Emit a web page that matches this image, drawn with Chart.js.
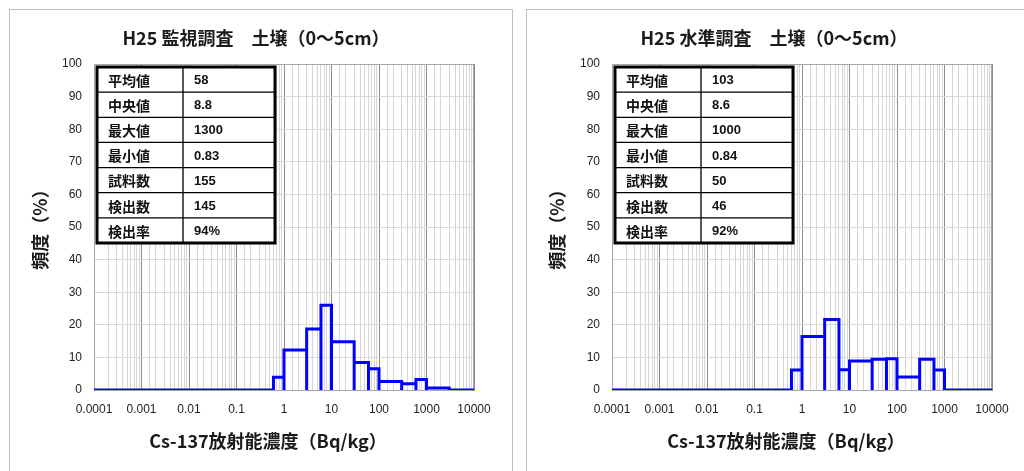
<!DOCTYPE html>
<html><head><meta charset="utf-8">
<script src="https://cdn.jsdelivr.net/npm/chart.js@4.4.1/dist/chart.umd.min.js"></script>
<style>
html,body{margin:0;padding:0;background:#fff;width:1024px;height:471px;overflow:hidden}
.panel{position:absolute;top:9px;height:480px;border:1px solid #bfbfbf;box-sizing:border-box;background:#fff}
#p1{left:9px;width:504px}
#p2{left:526px;width:520px}
canvas{position:absolute}
#c1{left:10px;top:10px}
#c2{left:527px;top:10px}
</style></head><body>
<div class="panel" id="p1"></div><div class="panel" id="p2"></div>
<canvas id="c1" width="500" height="461"></canvas>
<canvas id="c2" width="497" height="461"></canvas>
<script>
// ---- data ----
const binEdges = [0.6, 1, 3, 6, 10, 30, 60, 100, 300, 600, 1000, 3000];
const freqMonitoring = [3.9, 12.3, 18.7, 26.0, 14.8, 8.4, 6.5, 2.6, 1.9, 3.2, 0.6];
const freqLevel = [6.1, 16.4, 21.6, 6.2, 8.9, 9.4, 9.6, 4.0, 9.4, 6.1, 0];
const xMin = 0.0001, xMax = 10000;
const xTickLabels = ['0.0001', '0.001', '0.01', '0.1', '1', '10', '100', '1000', '10000'];
const yMin = 0, yMax = 100, yStep = 10;
const statLabels = ['平均値', '中央値', '最大値', '最小値', '試料数', '検出数', '検出率'];
const statsMonitoring = ['58', '8.8', '1300', '0.83', '155', '145', '94%'];
const statsLevel = ['103', '8.6', '1000', '0.84', '50', '46', '92%'];
const titleMonitoring = 'H25 監視調査　土壌（0～5cm）';
const titleLevel = 'H25 水準調査　土壌（0～5cm）';
const xTitle = 'Cs-137放射能濃度（Bq/kg）';
const yTitle = '頻度（%）';

const CJK = '"Noto Sans CJK JP", "Noto Sans CJK SC", sans-serif';
const LAT = '"Liberation Sans", Arial, sans-serif';

function isDecade(v) {
  const l = Math.log10(v);
  return Math.abs(l - Math.round(l)) < 1e-6;
}

const decor = {
  id: 'decor',
  beforeDatasetsDraw(chart) {
    const ctx = chart.ctx, a = chart.chartArea;
    ctx.save();
    ctx.strokeStyle = '#a6a6a6';
    ctx.lineWidth = 1;
    ctx.strokeRect(a.left + 0.5, a.top + 0.5, a.right - a.left - 1, a.bottom - a.top);
    ctx.restore();
  },
  afterDatasetsDraw(chart, args, opts) {
    const ctx = chart.ctx, a = chart.chartArea;
    ctx.save();
    // stats table
    const tx = a.left + 3, ty = a.top + 3, tw = 178, th = 176;
    const rows = statLabels.length, rh = th / rows, c1 = 86;
    ctx.fillStyle = '#fff';
    ctx.fillRect(tx, ty, tw, th);
    ctx.strokeStyle = '#000';
    ctx.lineWidth = 1.3;
    ctx.beginPath();
    for (let r = 1; r < rows; r++) {
      ctx.moveTo(tx, ty + r * rh); ctx.lineTo(tx + tw, ty + r * rh);
    }
    ctx.moveTo(tx + c1, ty); ctx.lineTo(tx + c1, ty + th);
    ctx.stroke();
    ctx.lineWidth = 3;
    ctx.strokeRect(tx, ty, tw, th);
    ctx.fillStyle = '#111';
    ctx.textBaseline = 'middle';
    ctx.textAlign = 'left';
    for (let r = 0; r < rows; r++) {
      const cy = ty + (r + 0.5) * rh + 1;
      ctx.font = 'bold 14px ' + CJK;
      ctx.fillText(statLabels[r], tx + 11, cy);
      ctx.font = 'bold 13px ' + LAT;
      ctx.fillText(opts.stats[r], tx + c1 + 11, cy);
    }
    ctx.restore();
  },
  afterDraw(chart, args, opts) {
    const ctx = chart.ctx, a = chart.chartArea;
    const cx = (a.left + a.right) / 2, cy = (a.top + a.bottom) / 2;
    ctx.save();
    ctx.fillStyle = '#1a1a1a';
    ctx.textAlign = 'center';
    ctx.textBaseline = 'middle';
    ctx.font = 'bold 18px ' + CJK;
    ctx.fillText(opts.title, cx - 28, 28);
    ctx.fillText(xTitle, cx - 16, 431);
    ctx.translate(30, cy - 2);
    ctx.rotate(-Math.PI / 2);
    ctx.fillText(yTitle, 0, 0);
    ctx.restore();
  }
};

function makeChart(id, freq, stats, title, padL, padR) {
  const pts = [{x: xMin, y: 0}];
  freq.forEach((h, i) => {
    const lo = binEdges[i], hi = binEdges[i + 1];
    pts.push({x: lo, y: 0}, {x: lo, y: h}, {x: hi, y: h}, {x: hi, y: 0});
  });
  pts.push({x: xMax, y: 0});
  return new Chart(document.getElementById(id), {
    type: 'scatter',
    data: {datasets: [{
      data: pts, showLine: true, borderColor: '#0000ff', borderWidth: 3,
      pointRadius: 0, pointHoverRadius: 0, tension: 0, fill: false,
      borderJoinStyle: 'miter', borderCapStyle: 'butt'
    }]},
    options: {
      responsive: false, animation: false, devicePixelRatio: 1,
      layout: {padding: {left: padL, right: padR, top: 54, bottom: 51}},
      plugins: {
        legend: {display: false}, tooltip: {enabled: false},
        decor: {title: title, stats: stats}
      },
      scales: {
        x: {
          type: 'logarithmic', min: xMin, max: xMax,
          afterFit(s) { s.height = 30; },
          grid: {
            color: c => (c.tick && isDecade(c.tick.value)) ? '#8c8c8c' : '#d6d6d6',
            drawTicks: false, lineWidth: 1
          },
          border: {color: '#808080'},
          ticks: {
            autoSkip: false, maxRotation: 0, minRotation: 0, padding: 12,
            color: '#222', font: {family: LAT, size: 12},
            callback: v => isDecade(v) ? xTickLabels[Math.round(Math.log10(v)) + 4] : ''
          }
        },
        y: {
          min: yMin, max: yMax,
          afterFit(s) { s.width = 50; },
          grid: {color: '#d9d9d9', drawTicks: false, lineWidth: 1},
          border: {color: '#808080'},
          ticks: {stepSize: yStep, padding: 12, color: '#222', font: {family: LAT, size: 12}}
        }
      }
    },
    plugins: [decor]
  });
}

makeChart('c1', freqMonitoring, statsMonitoring, titleMonitoring, 34, 36);
makeChart('c2', freqLevel, statsLevel, titleLevel, 35, 32);
</script>
</body></html>
